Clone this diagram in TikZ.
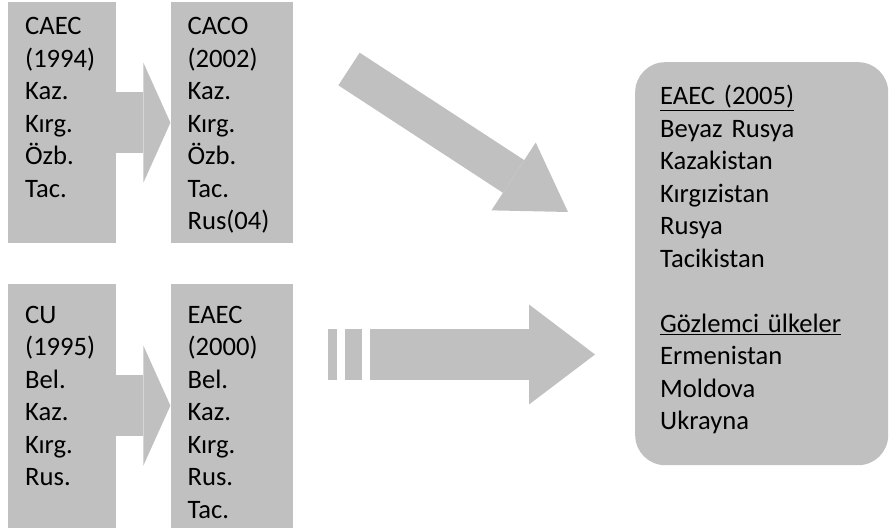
\documentclass[tikz,border=0pt]{standalone}
\usepackage{fontspec}
\setmainfont{Carlito}
\usetikzlibrary{positioning, calc, arrows.meta}
\definecolor{boxgray}{RGB}{192,192,192}

\tikzset{
    box/.style={fill=boxgray, inner sep=0pt, minimum width=108pt, minimum height=241pt},
    txt/.style={anchor=base west, inner sep=0pt, text width=200pt, align=left,
        font=\fontsize{26.6}{32.5}\selectfont},
    blockarrow/.style={draw=boxgray, line width=61pt,
        -{Triangle[length=27pt, width=120pt, line width=0pt]}}
}

\begin{document}
\begin{tikzpicture}[x=1pt, y=1pt]
            \useasboundingbox (0,0) rectangle (890,529);
            \node[box, anchor=north west] (caec) at (8,527) {};
            \node[box, minimum width=122pt, right=54pt of caec] (caco) {};
            \node[box, minimum height=244pt, below=40pt of caec] (cu) {};
            \node[box, minimum width=122pt, minimum height=244pt, right=54pt of cu] (eaec) {};
            \node[box, minimum width=253pt, minimum height=403pt, rounded corners=30pt,
                anchor=north west] (union) at (635,467) {};

            \node[txt] (caec-t) at ($(caec.north west)+(17,-33)$) {CAEC\\(1994)\\Kaz.\\Kırg.\\Özb.\\Tac.};
            \node[txt] (caco-t) at ($(caco.north west)+(17,-33)$) {CACO\\(2002)\\Kaz.\\Kırg.\\Özb.\\Tac.\\Rus(04)};
            \node[txt] (cu-t) at ($(cu.north west)+(17,-40)$) {CU\\(1995)\\Bel.\\Kaz.\\Kırg.\\Rus.};
            \node[txt] (eaec-t) at ($(eaec.north west)+(17,-40)$) {EAEC\\(2000)\\Bel.\\Kaz.\\Kırg.\\Rus.\\Tac.};
            \node[txt] (union-t) at ($(union.north west)+(25,-43)$) {\underline{EAEC (2005)}\\Beyaz Rusya\\Kazakistan\\Kırgızistan\\Rusya\\Tacikistan\\[32.5pt]\underline{Gözlemci ülkeler}\\Ermenistan\\Moldova\\Ukrayna};

            \coordinate (diag-s) at (349,460);
            \coordinate (diag-e) at (568,317);
            \coordinate (low-s) at (370,174.5);
            \coordinate (low-e) at (595,174.5);

            \draw[blockarrow] (caec.east) -- (caco.west);
            \draw[blockarrow] (cu.east) -- (eaec.west);
            \draw[blockarrow, line width=39pt, -{Triangle[length=65pt, width=81pt, line width=0pt]}] (diag-s) -- (diag-e);
            \draw[blockarrow, line width=51pt, -{Triangle[length=66pt, width=100pt, line width=0pt]}] (low-s) -- (low-e);
            \foreach \a/\b in {328/337, 345/362}
                \fill[boxgray] (\a,149) rectangle (\b,200);
        \end{tikzpicture}
\end{document}
